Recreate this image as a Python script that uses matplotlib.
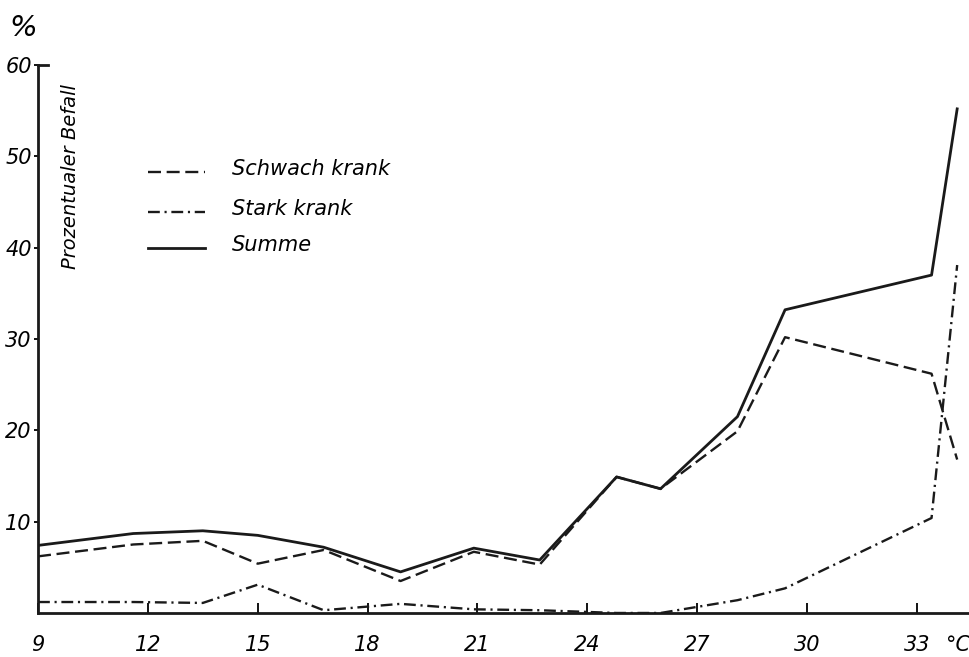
import numpy as np
import matplotlib.pyplot as plt

# Temperatur (°C) und prozentualer Befall
temp = [9, 11.6, 13.5, 15.0, 16.8, 18.9, 20.9, 22.7, 24.8, 26.0, 28.1, 29.4, 33.4, 34.1]
schwach = [6.2, 7.5, 7.9, 5.4, 6.9, 3.5, 6.7, 5.3, 14.9, 13.6, 19.9, 30.2, 26.2, 16.8]
stark = [1.2, 1.2, 1.1, 3.1, 0.3, 1.0, 0.4, 0.3, 0.0, 0.0, 1.4, 2.7, 10.4, 38.1]
summe = [7.4, 8.7, 9.0, 8.5, 7.2, 4.5, 7.1, 5.8, 14.9, 13.6, 21.5, 33.2, 37.0, 55.2]

xticks = [9, 12, 15, 18, 21, 24, 27, 30, 33]
yticks = [10, 20, 30, 40, 50, 60]

plt.rcParams['font.family'] = 'DejaVu Sans'
plt.rcParams['font.style'] = 'italic'

ink = '#1a1a1a'
dash = dict(dashes=(5.5, 2.4), lw=1.7)
dashdot = dict(dashes=(5.0, 2.0, 0.9, 2.0), lw=1.7)
solid = dict(lw=2.0)

fig = plt.figure(figsize=(9.7, 6.57), dpi=100)
ax = fig.add_axes([0.0392, 0.067, 0.9608, 0.834])

ax.plot(temp, schwach, color=ink, **dash)
ax.plot(temp, stark, color=ink, **dashdot)
ax.plot(temp, summe, color=ink, **solid)

ax.set_xlim(9, 34.45)
ax.set_ylim(0, 60)
ax.set_xticks(xticks)
ax.set_yticks(yticks)
ax.tick_params(axis='x', direction='in', length=7, width=1.3, pad=16, labelsize=15)
ax.tick_params(axis='y', direction='out', length=3, width=1.3, pad=1.5, labelsize=15)
for s in ['top', 'right']:
    ax.spines[s].set_visible(False)
for s in ['left', 'bottom']:
    ax.spines[s].set_linewidth(2.0)
    ax.spines[s].set_color(ink)

# kurzer Strich am oberen Achsenende
ax.plot([0, 0.011], [1, 1], transform=ax.transAxes, color=ink, lw=2.0,
        clip_on=False)

ax.annotate('°C', xy=(34.1, 0), xycoords=('data', 'axes fraction'),
            xytext=(0, -16), textcoords='offset points', ha='center', va='top',
            fontsize=15)
fig.text(0.024, 0.958, '%', fontsize=21, ha='center', va='center')
ax.text(0.035, 0.965, 'Prozentualer Befall', transform=ax.transAxes,
        rotation=90, ha='center', va='top', fontsize=14)

# Legende
leg_y = [172, 212, 248]
leg_txt = ['Schwach krank', 'Stark krank', 'Summe']
leg_style = [dash, dashdot, solid]
for yp, t, st in zip(leg_y, leg_txt, leg_style):
    yf = 1 - yp / 657
    fig.add_artist(plt.Line2D([148 / 970, 205 / 970], [yf, yf], color=ink, **st))
    fig.text(232 / 970, yf + 3 / 657, t, fontsize=15, ha='left', va='center')

fig.savefig('out.png', dpi=100)
